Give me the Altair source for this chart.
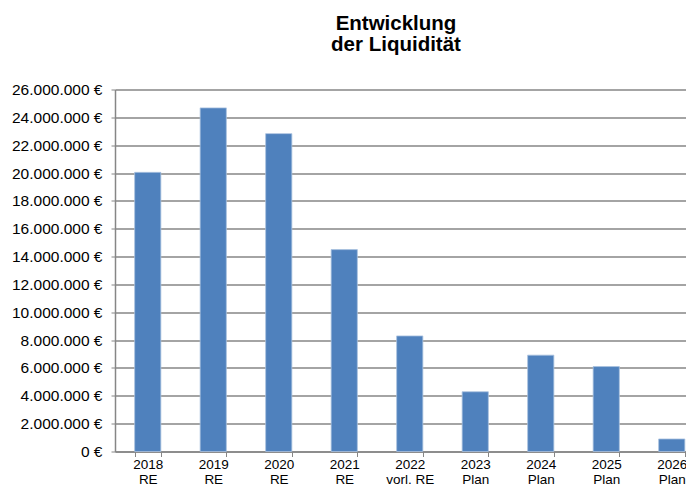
import altair as alt
import pandas as pd

years = ["2018", "2019", "2020", "2021", "2022", "2023", "2024", "2025", "2026"]
kinds = ["RE", "RE", "RE", "RE", "vorl. RE", "Plan", "Plan", "Plan", "Plan"]
values = [20050000, 24680000, 22830000, 14500000, 8300000, 4290000, 6920000, 6100000, 900000]
y_ticks = list(range(0, 26000001, 2000000))

df = pd.DataFrame({
    "cat": [f"{y}\n{k}" for y, k in zip(years, kinds)],
    "value": values,
})

FONT = "Liberation Sans"

chart = alt.Chart(df).mark_bar(
    color="#4F81BD", stroke="#A9C1E0", strokeWidth=0.8
).encode(
    x=alt.X("cat:N", sort=None, title=None,
            scale=alt.Scale(paddingInner=0.6, paddingOuter=0.3, range=[0, 589.5]),
            axis=alt.Axis(labelAngle=0, labelExpr="split(datum.label, '\\n')",
                          labelFont=FONT, labelFontSize=13.5, labelColor="#000000",
                          labelLineHeight=15, labelPadding=1, labelBaseline="top",
                          tickBand="extent", tickColor="#868686", tickSize=5, tickWidth=1,
                          domainColor="#868686", domainWidth=1.5, grid=False)),
    y=alt.Y("value:Q", title=None,
            scale=alt.Scale(domain=[0, 26000000], nice=False),
            axis=alt.Axis(values=y_ticks,
                          labelExpr="replace(format(datum.value, ','), regexp(',', 'g'), '.') + ' €'",
                          labelFont=FONT, labelFontSize=15.5, labelColor="#000000",
                          labelPadding=9, tickColor="#868686", tickSize=4, tickWidth=1,
                          domainColor="#868686", domainWidth=1.5,
                          grid=True, gridColor="#868686", gridWidth=1.5)),
).properties(
    width=571,
    height=362,
    title=alt.TitleParams(["Entwicklung", "der Liquidität"], font=FONT, fontSize=20.5,
                          fontWeight="bold", color="#000000", anchor="middle",
                          dx=-4.5, offset=27, lineHeight=21),
    padding={"left": 107, "top": 81.5, "right": 0, "bottom": 35.5},
    autosize=alt.AutoSizeParams(type="none"),
).configure_view(stroke=None)

chart.save("out.html", embed_options={"renderer": "svg", "actions": False})
